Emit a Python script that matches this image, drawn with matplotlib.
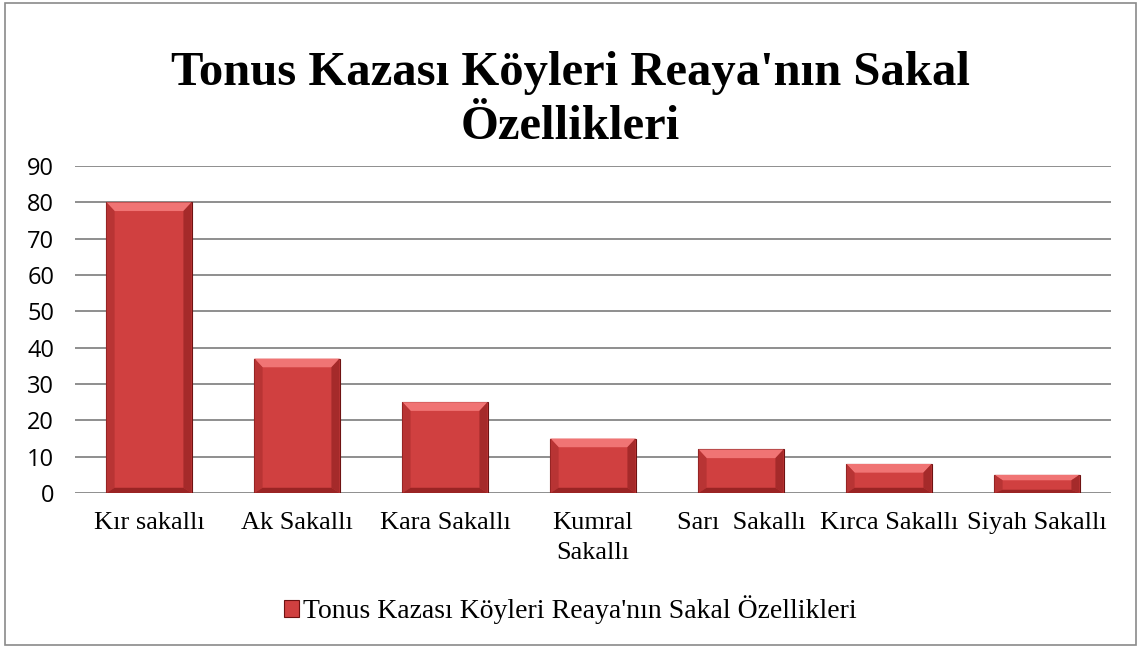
import matplotlib
matplotlib.use("Agg")
import matplotlib.pyplot as plt
from matplotlib.patches import Rectangle, Polygon

categories = ["Kır sakallı", "Ak Sakallı", "Kara Sakallı", "Kumral\nSakallı",
              "Sarı  Sakallı", "Kırca Sakallı", "Siyah Sakallı"]
values = [80, 37, 25, 15, 12, 8, 5]
series_name = "Tonus Kazası Köyleri Reaya'nın Sakal Özellikleri"
title = "Tonus Kazası Köyleri Reaya'nın Sakal\nÖzellikleri"
yticks = list(range(0, 100, 10))

fig = plt.figure(figsize=(11.41, 6.48), dpi=100)
ax = fig.add_axes([75 / 1141, 1 - 493 / 648, (1111 - 75) / 1141, (493 - 166) / 648])

# outer chart border
fig.patches.append(Rectangle((0.004, 0.004), 0.992, 0.992, transform=fig.transFigure,
                             fill=False, edgecolor="#8a8a8a", linewidth=1.2))

x = list(range(len(categories)))
width = 0.575
bars = ax.bar(x, values, width=width, color="#d04040", edgecolor="#6e1212",
              linewidth=0.8, zorder=3, label=series_name)

# bevel: light top, darker sides and bottom
for b in bars:
    x0, w, h = b.get_x(), b.get_width(), b.get_height()
    bev = min(2.4, h * 0.3)
    ins = 0.055
    ax.add_patch(Polygon([(x0, h), (x0 + w, h), (x0 + w - ins, h - bev), (x0 + ins, h - bev)],
                         closed=True, facecolor="#f07474", edgecolor="none", zorder=4))
    ax.add_patch(Polygon([(x0, 0), (x0 + ins, bev * 0.6), (x0 + ins, h - bev), (x0, h)],
                         closed=True, facecolor="#b83434", edgecolor="none", zorder=4))
    ax.add_patch(Polygon([(x0 + w, 0), (x0 + w - ins, bev * 0.6), (x0 + w - ins, h - bev), (x0 + w, h)],
                         closed=True, facecolor="#a52a2a", edgecolor="none", zorder=4))
    ax.add_patch(Polygon([(x0, 0), (x0 + w, 0), (x0 + w - ins, bev * 0.6), (x0 + ins, bev * 0.6)],
                         closed=True, facecolor="#9a2424", edgecolor="none", zorder=4))

ax.set_xlim(-0.5, len(categories) - 0.5)
ax.set_ylim(0, 90)
ax.set_yticks(yticks)
ax.yaxis.grid(True, color="#868686", linewidth=1.3, zorder=0)
ax.set_axisbelow(True)
for s in ax.spines.values():
    s.set_visible(False)
ax.tick_params(axis="both", length=0)
ax.tick_params(axis="y", labelsize=17, pad=15)
for lbl in ax.get_yticklabels():
    lbl.set_family("Open Sans")
ax.set_xticks(x)
ax.set_xticklabels(categories, fontsize=19, family="Liberation Serif", linespacing=1.45)
ax.tick_params(axis="x", pad=14)

fig.text(0.5, 1 - 100 / 648, title, ha="center", va="center", fontsize=35, fontweight="bold",
         family="Liberation Serif", linespacing=1.3)

fig.legend(handles=[bars], labels=[series_name], loc="center", bbox_to_anchor=(0.5, 1 - 610 / 648),
           frameon=False, prop={"family": "Liberation Serif", "size": 20},
           handlelength=0.55, handleheight=0.55, handletextpad=0.15)

fig.savefig("out.png", dpi=100)
